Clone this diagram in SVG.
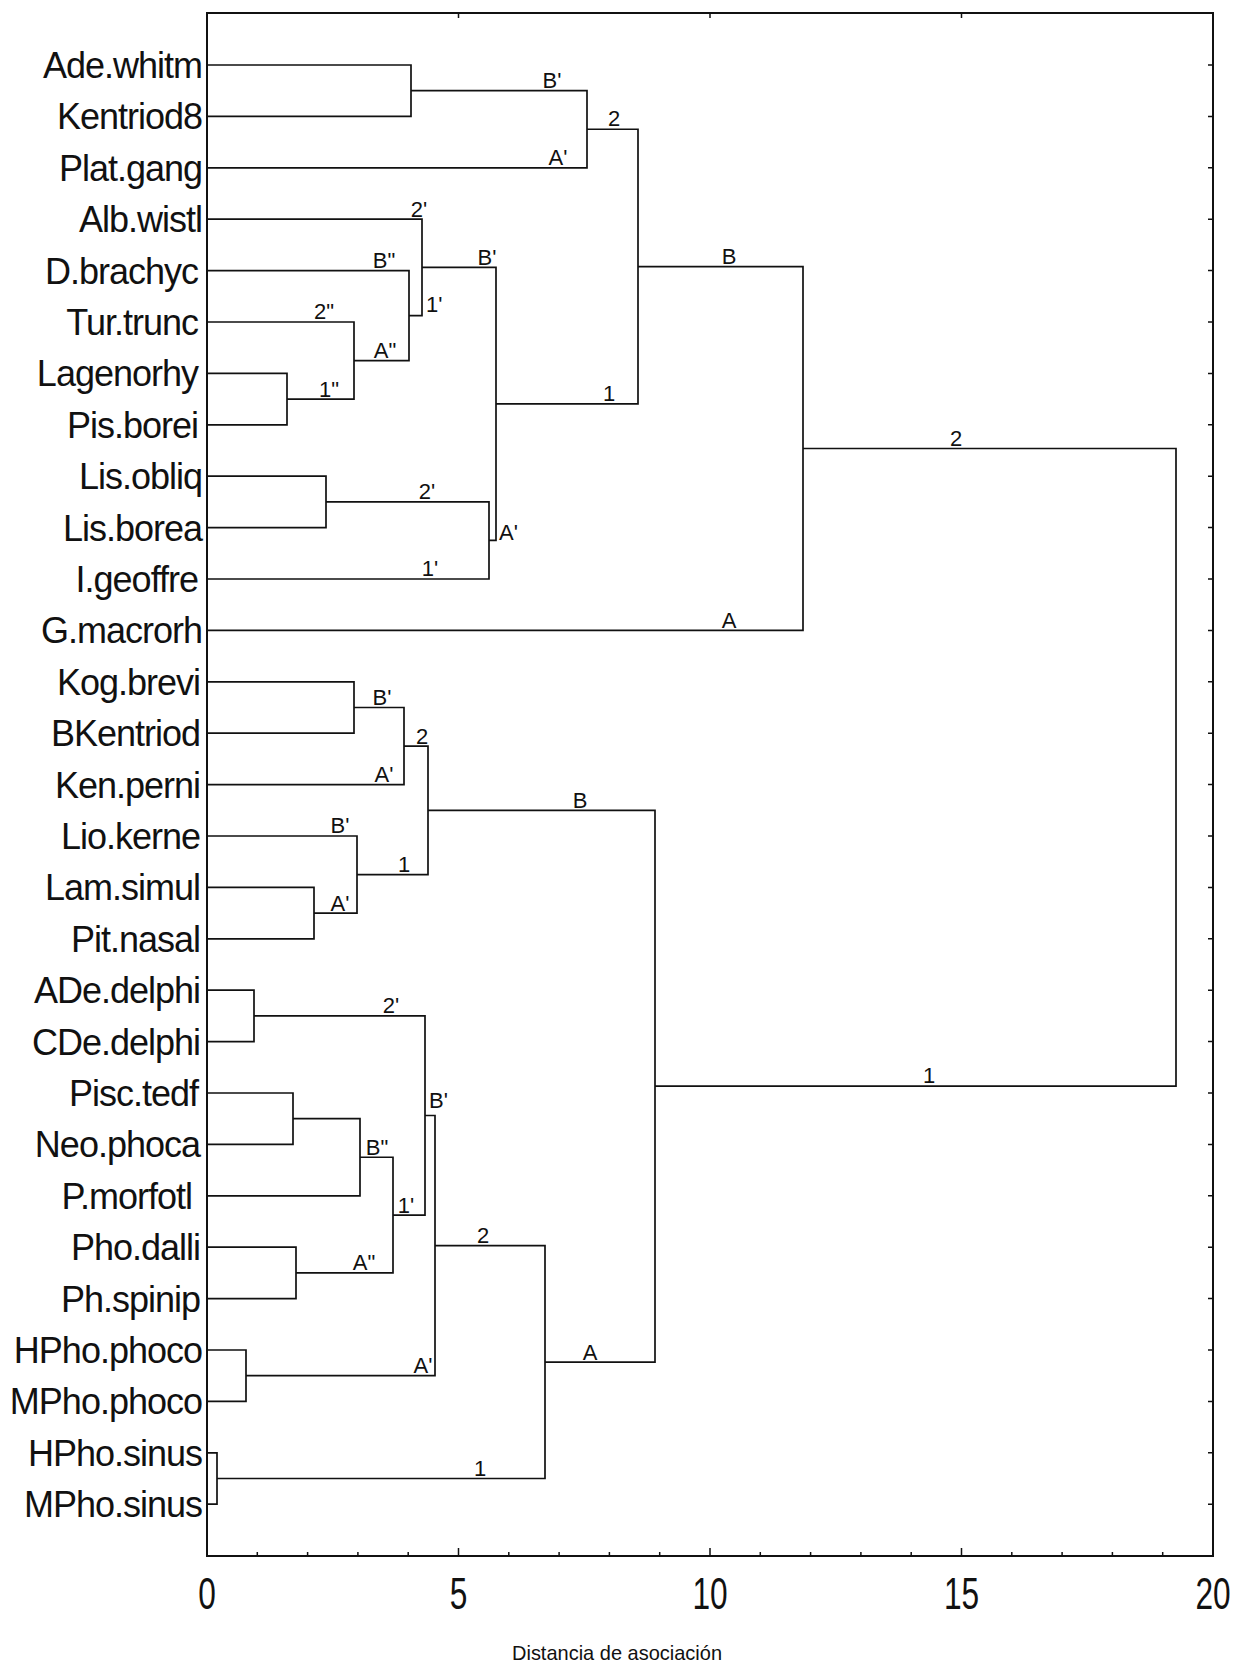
<svg xmlns="http://www.w3.org/2000/svg" width="1249" height="1666" viewBox="0 0 1249 1666">
<style>
.bg{fill:#ffffff}
.frame{fill:none;stroke:#111;stroke-width:2}
.ln{fill:none;stroke:#111;stroke-width:1.7}
.tk{fill:none;stroke:#111;stroke-width:1.5}
.leaf{font-family:"Liberation Sans",Arial,sans-serif;font-size:36px;letter-spacing:-1px;text-anchor:end;fill:#111}
.nl{font-family:"Liberation Sans",Arial,sans-serif;font-size:22px;text-anchor:middle;fill:#111}
.nls{font-family:"Liberation Sans",Arial,sans-serif;font-size:22px;text-anchor:start;fill:#111}
.axn{font-family:"Liberation Sans",Arial,sans-serif;font-size:44px;text-anchor:middle;fill:#111}
.axt{font-family:"Liberation Sans",Arial,sans-serif;font-size:21px;text-anchor:middle;fill:#111}
</style>
<rect class="bg" x="0" y="0" width="1249" height="1666"/>
<g id="axes">
<rect class="frame" x="207" y="13" width="1006" height="1543"/>
<path class="tk" d="M458.5 13v5M710 13v5M961.5 13v5"/>
<path class="tk" d="M257.3 1556v-4M307.6 1556v-4M357.9 1556v-4M408.2 1556v-4M458.5 1556v-8M508.8 1556v-4M559.1 1556v-4M609.4 1556v-4M659.7 1556v-4M710 1556v-8M760.3 1556v-4M810.6 1556v-4M860.9 1556v-4M911.2 1556v-4M961.5 1556v-8M1011.8 1556v-4M1062.1 1556v-4M1112.4 1556v-4M1162.7 1556v-4"/>
<path class="tk" d="M1213 65h-5M1213 116.4h-5M1213 167.8h-5M1213 219.2h-5M1213 270.6h-5M1213 322h-5M1213 373.4h-5M1213 424.8h-5M1213 476.2h-5M1213 527.6h-5M1213 579h-5M1213 630.4h-5M1213 681.8h-5M1213 733.2h-5M1213 784.6h-5M1213 836h-5M1213 887.4h-5M1213 938.8h-5M1213 990.2h-5M1213 1041.6h-5M1213 1093h-5M1213 1144.4h-5M1213 1195.8h-5M1213 1247.2h-5M1213 1298.6h-5M1213 1350h-5M1213 1401.4h-5M1213 1452.8h-5M1213 1504.2h-5"/>
<text class="axn" transform="translate(207 1609) scale(0.72 1)">0</text>
<text class="axn" transform="translate(458.5 1609) scale(0.72 1)">5</text>
<text class="axn" transform="translate(710 1609) scale(0.72 1)">10</text>
<text class="axn" transform="translate(961.5 1609) scale(0.72 1)">15</text>
<text class="axn" transform="translate(1213 1609) scale(0.72 1)">20</text>
<text class="axt" x="617" y="1660" textLength="210" lengthAdjust="spacingAndGlyphs">Distancia de asociación</text>
</g>
<g id="leaves">
<g id="leaf-ade-whitm"><text class="leaf" x="202" y="78">Ade.whitm</text></g>
<g id="leaf-kentriod8"><text class="leaf" x="202" y="129.4">Kentriod8</text></g>
<g id="leaf-plat-gang"><text class="leaf" x="202" y="180.8">Plat.gang</text></g>
<g id="leaf-alb-wistl"><text class="leaf" x="202" y="232.2">Alb.wistl</text></g>
<g id="leaf-d-brachyc"><text class="leaf" x="198" y="283.6">D.brachyc</text></g>
<g id="leaf-tur-trunc"><text class="leaf" x="198" y="335">Tur.trunc</text></g>
<g id="leaf-lagenorhy"><text class="leaf" x="198" y="386.4">Lagenorhy</text></g>
<g id="leaf-pis-borei"><text class="leaf" x="198" y="437.8">Pis.borei</text></g>
<g id="leaf-lis-obliq"><text class="leaf" x="202" y="489.2">Lis.obliq</text></g>
<g id="leaf-lis-borea"><text class="leaf" x="202" y="540.6">Lis.borea</text></g>
<g id="leaf-i-geoffre"><text class="leaf" x="198" y="592">I.geoffre</text></g>
<g id="leaf-g-macrorh"><text class="leaf" x="202" y="643.4">G.macrorh</text></g>
<g id="leaf-kog-brevi"><text class="leaf" x="200" y="694.8">Kog.brevi</text></g>
<g id="leaf-bkentriod"><text class="leaf" x="200" y="746.2">BKentriod</text></g>
<g id="leaf-ken-perni"><text class="leaf" x="200" y="797.6">Ken.perni</text></g>
<g id="leaf-lio-kerne"><text class="leaf" x="200" y="849">Lio.kerne</text></g>
<g id="leaf-lam-simul"><text class="leaf" x="200" y="900.4">Lam.simul</text></g>
<g id="leaf-pit-nasal"><text class="leaf" x="200" y="951.8">Pit.nasal</text></g>
<g id="leaf-ade-delphi"><text class="leaf" x="200" y="1003.2">ADe.delphi</text></g>
<g id="leaf-cde-delphi"><text class="leaf" x="200" y="1054.6">CDe.delphi</text></g>
<g id="leaf-pisc-tedf"><text class="leaf" x="198" y="1106">Pisc.tedf</text></g>
<g id="leaf-neo-phoca"><text class="leaf" x="200" y="1157.4">Neo.phoca</text></g>
<g id="leaf-p-morfotl"><text class="leaf" x="192" y="1208.8">P.morfotl</text></g>
<g id="leaf-pho-dalli"><text class="leaf" x="200" y="1260.2">Pho.dalli</text></g>
<g id="leaf-ph-spinip"><text class="leaf" x="200" y="1311.6">Ph.spinip</text></g>
<g id="leaf-hpho-phoco"><text class="leaf" x="202" y="1363">HPho.phoco</text></g>
<g id="leaf-mpho-phoco"><text class="leaf" x="202" y="1414.4">MPho.phoco</text></g>
<g id="leaf-hpho-sinus"><text class="leaf" x="202" y="1465.8">HPho.sinus</text></g>
<g id="leaf-mpho-sinus"><text class="leaf" x="202" y="1517.2">MPho.sinus</text></g>
</g>
<g id="connectors">
<path class="ln" d="M207 65H411V116.4H207"/>
<path class="ln" d="M411 90.7H587V167.8H207"/>
<path class="ln" d="M207 373.4H287V424.8H207"/>
<path class="ln" d="M207 322H354V399.1H287"/>
<path class="ln" d="M207 270.6H409V360.55H354"/>
<path class="ln" d="M207 219.2H422V315.6H409"/>
<path class="ln" d="M207 476.2H326V527.6H207"/>
<path class="ln" d="M326 501.9H489V579H207"/>
<path class="ln" d="M422 267.4H496V540.45H489"/>
<path class="ln" d="M587 129.25H638V403.9H496"/>
<path class="ln" d="M638 266.6H803V630.4H207"/>
<path class="ln" d="M207 681.8H354V733.2H207"/>
<path class="ln" d="M354 707.5H404V784.6H207"/>
<path class="ln" d="M207 887.4H314V938.8H207"/>
<path class="ln" d="M207 836H357V913.1H314"/>
<path class="ln" d="M404 746.05H428V874.55H357"/>
<path class="ln" d="M207 990.2H254V1041.6H207"/>
<path class="ln" d="M207 1093H293V1144.4H207"/>
<path class="ln" d="M293 1118.7H360V1195.8H207"/>
<path class="ln" d="M207 1247.2H296V1298.6H207"/>
<path class="ln" d="M360 1157.25H393V1272.9H296"/>
<path class="ln" d="M254 1015.9H425V1215.1H393"/>
<path class="ln" d="M207 1350H246V1401.4H207"/>
<path class="ln" d="M425 1115.5H435V1375.7H246"/>
<path class="ln" d="M207 1452.8H217V1504.2H207"/>
<path class="ln" d="M435 1245.6H545V1478.5H217"/>
<path class="ln" d="M428 810.3H655V1362.05H545"/>
<path class="ln" d="M803 448.5H1176V1086.2H655"/>
</g>
<g id="branch-labels">
<text class="nl" x="552" y="88">B'</text>
<text class="nl" x="558" y="165">A'</text>
<text class="nl" x="614" y="126">2</text>
<text class="nl" x="609" y="401">1</text>
<text class="nl" x="729" y="264">B</text>
<text class="nl" x="729" y="628">A</text>
<text class="nl" x="956" y="446">2</text>
<text class="nl" x="929" y="1083">1</text>
<text class="nl" x="419" y="217">2'</text>
<text class="nl" x="384" y="268">B"</text>
<text class="nls" x="426" y="312">1'</text>
<text class="nl" x="324" y="319">2"</text>
<text class="nl" x="385" y="358">A"</text>
<text class="nl" x="329" y="397">1"</text>
<text class="nl" x="487" y="265">B'</text>
<text class="nl" x="427" y="499">2'</text>
<text class="nl" x="430" y="576">1'</text>
<text class="nls" x="499" y="540">A'</text>
<text class="nl" x="382" y="705">B'</text>
<text class="nl" x="384" y="782">A'</text>
<text class="nl" x="422" y="744">2</text>
<text class="nl" x="340" y="833">B'</text>
<text class="nl" x="340" y="911">A'</text>
<text class="nl" x="404" y="872">1</text>
<text class="nl" x="580" y="808">B</text>
<text class="nl" x="590" y="1360">A</text>
<text class="nl" x="391" y="1013">2'</text>
<text class="nl" x="377" y="1155">B"</text>
<text class="nl" x="364" y="1270">A"</text>
<text class="nl" x="406" y="1213">1'</text>
<text class="nls" x="429" y="1108">B'</text>
<text class="nl" x="423" y="1373">A'</text>
<text class="nl" x="483" y="1243">2</text>
<text class="nl" x="480" y="1476">1</text>
</g>
</svg>
